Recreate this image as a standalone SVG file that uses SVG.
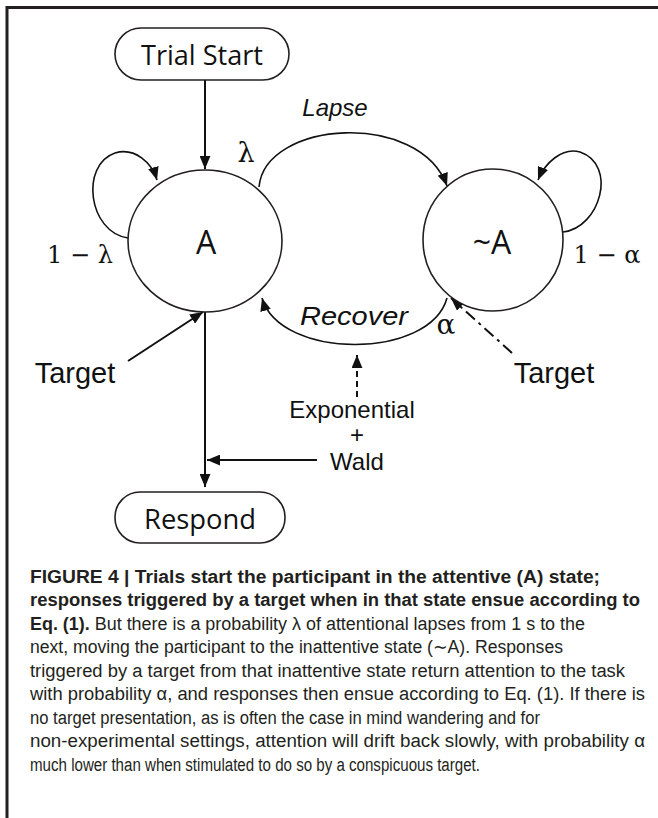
<svg xmlns="http://www.w3.org/2000/svg" width="658" height="818" viewBox="0 0 658 818">
<defs>
<style>
.frame{stroke:#231f20;stroke-width:3;fill:none}
.node{fill:#fff;stroke:#231f20;stroke-width:1.6}
.lbl{font-family:"Liberation Sans",Arial,sans-serif;fill:#111}
.cal{font-family:"Open Sans","Liberation Sans",sans-serif;fill:#111}
.math{font-family:"DejaVu Serif","Liberation Serif",serif;fill:#111}
.it{font-style:italic}
.edge{fill:none;stroke:#111;stroke-width:2}
.arc{fill:none;stroke:#111;stroke-width:1.6}
.cap{font-family:"Liberation Sans Narrow","Liberation Sans",Arial,sans-serif;font-size:18px;fill:#231f20}
.capb{font-weight:bold}
</style>
<marker id="ah" viewBox="0 0 12 10" refX="12" refY="5" markerWidth="13" markerHeight="11" markerUnits="userSpaceOnUse" orient="auto"><path d="M0,0 L12,5 L0,10 z" fill="#111"/></marker>
</defs>
<rect width="658" height="818" fill="#fff"/>
<path class="frame" d="M7,818 V7.5 H658"/>

<g id="connectors">
<line class="edge" x1="205" y1="80" x2="205" y2="169" marker-end="url(#ah)"/>
<path class="arc" d="M128,238 C88,232 80,165 115,153 C135,147 152,163 157,180" marker-end="url(#ah)"/>
<path class="arc" d="M259,187 C265,120 420,110 447,186" marker-end="url(#ah)"/>
<path class="arc" d="M563,232 C600,228 618,165 580,152 C562,147 545,163 538,180" marker-end="url(#ah)"/>
<path class="arc" d="M447,298 C430,360 280,360 262,298" marker-end="url(#ah)"/>
<line class="edge" x1="128" y1="361" x2="203" y2="312" marker-end="url(#ah)"/>
<line class="edge" x1="512" y1="353" x2="451" y2="298" stroke-dasharray="12,5,3,5" marker-end="url(#ah)"/>
<line class="edge" x1="205" y1="312" x2="205" y2="487" marker-end="url(#ah)"/>
<line class="edge" x1="317" y1="460" x2="207" y2="460" marker-end="url(#ah)"/>
<line class="edge" x1="357" y1="397" x2="357" y2="355" stroke-dasharray="6,4" marker-end="url(#ah)"/>
</g>

<g id="trial-start">
<rect class="node" x="115" y="28" width="174" height="52" rx="26"/>
<text class="cal" x="202" y="65" font-size="28" text-anchor="middle" textLength="122" lengthAdjust="spacingAndGlyphs">Trial Start</text>
</g>

<g id="state-A">
<ellipse class="node" cx="205" cy="241" rx="77" ry="71"/>
<text class="cal" x="206" y="254" font-size="32" text-anchor="middle">A</text>
</g>

<g id="state-notA">
<ellipse class="node" cx="493" cy="240" rx="70" ry="71"/>
<text class="cal" x="492" y="254" font-size="32" text-anchor="middle">~A</text>
</g>

<g id="respond">
<rect class="node" x="115" y="492" width="170" height="51" rx="25"/>
<text class="cal" x="200" y="529" font-size="28" text-anchor="middle" textLength="112" lengthAdjust="spacingAndGlyphs">Respond</text>
</g>

<g id="labels">
<text class="lbl it" x="335" y="116" font-size="24" text-anchor="middle">Lapse</text>
<text class="math" x="246" y="162" font-size="27" text-anchor="middle">λ</text>
<text class="math" x="80" y="263" font-size="24" text-anchor="middle">1 − λ</text>
<text class="math" x="607" y="263" font-size="24" text-anchor="middle">1 − α</text>
<text class="lbl it" x="354" y="325" font-size="25" text-anchor="middle" textLength="108" lengthAdjust="spacingAndGlyphs">Recover</text>
<text class="math" x="446" y="334" font-size="28" text-anchor="middle">α</text>
<text class="lbl" x="75" y="383" font-size="29" text-anchor="middle">Target</text>
<text class="lbl" x="554" y="383" font-size="29" text-anchor="middle">Target</text>
<text class="lbl" x="352" y="418" font-size="24" text-anchor="middle">Exponential</text>
<text class="lbl" x="357" y="443" font-size="24" text-anchor="middle">+</text>
<text class="lbl" x="357" y="470" font-size="24" text-anchor="middle">Wald</text>
</g>

<g id="caption">
<text class="cap capb" x="30" y="583" textLength="570" lengthAdjust="spacingAndGlyphs">FIGURE 4 | Trials start the participant in the attentive (A) state;</text>
<text class="cap capb" x="30" y="606" textLength="610" lengthAdjust="spacingAndGlyphs">responses triggered by a target when in that state ensue according to</text>
<text class="cap" x="30" y="630" textLength="555" lengthAdjust="spacingAndGlyphs"><tspan class="capb">Eq. (1).</tspan> But there is a probability λ of attentional lapses from 1 s to the</text>
<text class="cap" x="30" y="653" textLength="533" lengthAdjust="spacingAndGlyphs">next, moving the participant to the inattentive state (∼A). Responses</text>
<text class="cap" x="30" y="677" textLength="595" lengthAdjust="spacingAndGlyphs">triggered by a target from that inattentive state return attention to the task</text>
<text class="cap" x="30" y="700" textLength="615" lengthAdjust="spacingAndGlyphs">with probability α, and responses then ensue according to Eq. (1). If there is</text>
<text class="cap" x="30" y="724" textLength="510" lengthAdjust="spacingAndGlyphs">no target presentation, as is often the case in mind wandering and for</text>
<text class="cap" x="30" y="747" textLength="615" lengthAdjust="spacingAndGlyphs">non-experimental settings, attention will drift back slowly, with probability α</text>
<text class="cap" x="30" y="771" textLength="450" lengthAdjust="spacingAndGlyphs">much lower than when stimulated to do so by a conspicuous target.</text>
</g>
</svg>
